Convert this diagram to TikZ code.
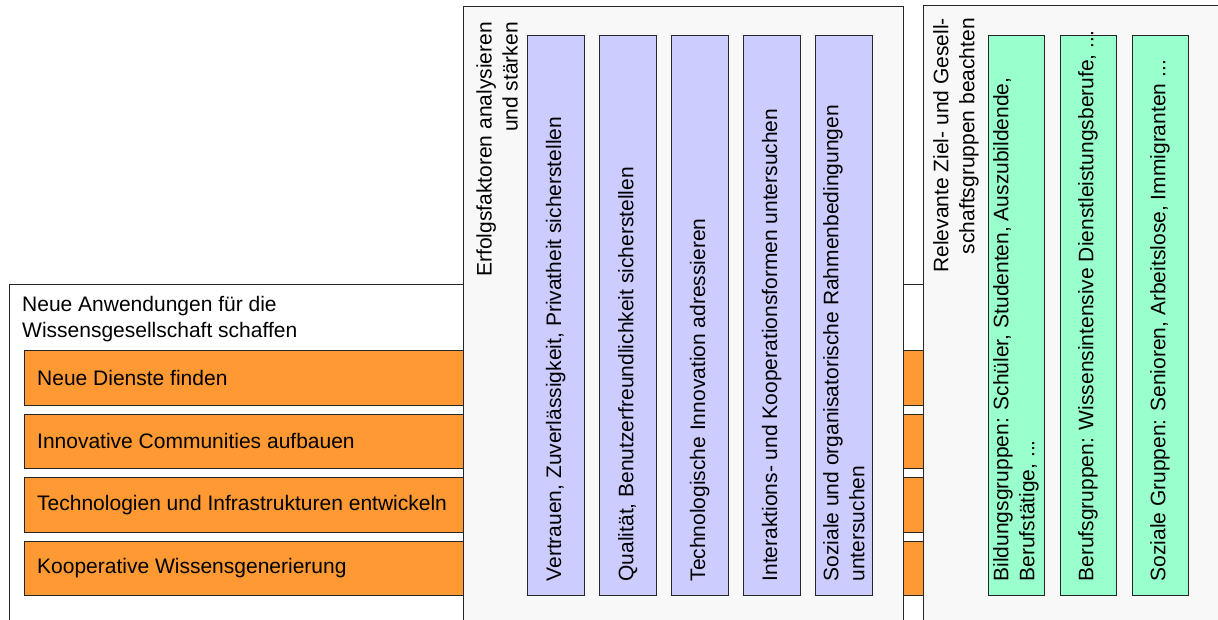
\documentclass[tikz,border=0pt]{standalone}
\usepackage{fontspec}
\setmainfont{Liberation Sans}
\usepackage{xcolor}
\definecolor{appOrange}{HTML}{FF9933}
\definecolor{facLilac}{HTML}{CCCCFF}
\definecolor{grpMint}{HTML}{99FFCC}
\definecolor{panelGray}{HTML}{F8F8F8}

\begin{document}
\begin{tikzpicture}[x=1pt,y=-1pt,
    every node/.style={font=\fontsize{21}{26}\selectfont},
    box/.style={draw=black!85, line width=1.1pt, anchor=north west, inner sep=0},
    panel/.style={box, fill=panelGray},
    appbar/.style={box, fill=appOrange, minimum width=916, minimum height=54.5},
    facbar/.style={box, fill=facLilac, minimum width=56.5, minimum height=560},
    grpbar/.style={box, fill=grpMint, minimum width=56, minimum height=560},
    bartext/.style={rotate=90, anchor=west, align=left, inner sep=0},
    titletext/.style={rotate=90, anchor=east, align=right, inner sep=0}]
  \useasboundingbox (0,0) rectangle (1218,619);
  \clip (0,0) rectangle (1218,619);
  % left box with the orange rows, runs under both panels
  \node[box, fill=white, minimum width=940, minimum height=360] (app) at (8.5,283.5) {};
  \node[anchor=north west, align=left, inner sep=0] (app-title) at (22,296)
    {Neue Anwendungen für die\\Wissensgesellschaft schaffen};
  \foreach \i/\txt in {0/Neue Dienste finden, 1/Innovative Communities aufbauen,
      2/Technologien und Infrastrukturen entwickeln, 3/Kooperative Wissensgenerierung} {
    \node[appbar] (app\i) at (24,350+63.5*\i) {};
    \node[anchor=west, inner sep=0] (app\i-txt) at ([xshift=13]app\i.west) {\txt};
  }
  % middle panel: success factors
  \node[panel, minimum width=440, minimum height=640] (erf) at (463,5.5) {};
  \node[titletext] (erf-title) at (497,22) {Erfolgsfaktoren analysieren\\und stärken};
  \foreach \i/\txt in {0/{Vertrauen, Zuverlässigkeit, Privatheit sicherstellen},
      1/{Qualität, Benutzerfreundlichkeit sicherstellen},
      2/{Technologische Innovation adressieren},
      3/{Interaktions- und Kooperationsformen untersuchen},
      4/{Soziale und organisatorische Rahmenbedingungen\\untersuchen}} {
    \node[facbar] (fac\i) at (527+72*\i,34.5) {};
    \node[bartext] (fac\i-txt) at ([yshift=14]fac\i.south) {\txt};
  }
  % right panel: target groups
  \node[panel, minimum width=320, minimum height=640] (rel) at (923.3,5.3) {};
  \node[titletext] (rel-title) at (956,18) {Relevante Ziel- und Gesell-\\schaftsgruppen beachten};
  \foreach \i/\txt in {0/{Bildungsgruppen: Schüler, Studenten, Auszubildende,\\Berufstätige, ...},
      1/{Berufsgruppen: Wissensintensive Dienstleistungsberufe, ...},
      2/{Soziale Gruppen: Senioren, Arbeitslose, Immigranten ...}} {
    \node[grpbar] (grp\i) at (987.5+72*\i,34.5) {};
    \node[bartext] (grp\i-txt) at ([yshift=14]grp\i.south) {\txt};
  }
\end{tikzpicture}
\end{document}
